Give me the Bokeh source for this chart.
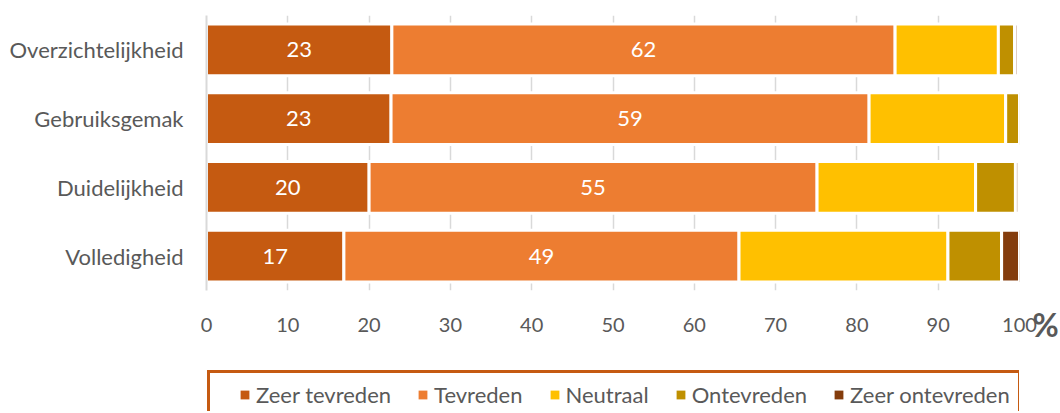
from bokeh.plotting import figure
from bokeh.layouts import column
from bokeh.models import (ColumnDataSource, Range1d, FixedTicker, Legend, LegendItem,
                          LinearAxis)
from bokeh.core.properties import value
from bokeh.embed import file_html
from bokeh.resources import INLINE

# ---- data ----
categories = ["Overzichtelijkheid", "Gebruiksgemak", "Duidelijkheid", "Volledigheid"]
series_names = ["Zeer tevreden", "Tevreden", "Neutraal", "Ontevreden", "Zeer ontevreden"]
zeer_tevreden = [22.8, 22.7, 20.0, 16.9]
tevreden = [61.9, 58.8, 55.1, 48.6]
neutraal = [12.7, 16.8, 19.5, 25.7]
ontevreden = [2.0, 1.7, 4.9, 6.6]
zeer_ontevreden = [0.4, 0.0, 0.4, 2.2]
colors = ["#C55A11", "#ED7D31", "#FFC000", "#BF9000", "#843C0C"]
x_ticks = [0, 10, 20, 30, 40, 50, 60, 70, 80, 90, 100]
unit_label = "%"

FONT = "Lato"
TXT = "#595959"
W = 1060
H1 = 354
H2 = 411 - H1
BL, BR = 206, 41

series = [zeer_tevreden, tevreden, neutraal, ontevreden, zeer_ontevreden]
n = len(categories)
ypos = [n - 1 - i for i in range(n)]  # first category on top

p = figure(width=W, height=H1, output_backend="svg", toolbar_location=None,
           x_range=Range1d(0, 100), y_range=Range1d(-0.5, n - 0.5),
           min_border_left=BL, min_border_right=BR, min_border_top=15,
           min_border_bottom=H1 - 290)
p.outline_line_color = None
p.background_fill_color = "white"
p.border_fill_color = "white"

# stacked bars
sources = []
left = [0.0] * n
for name, vals, col in zip(series_names, series, colors):
    right = [l + v for l, v in zip(left, vals)]
    src = ColumnDataSource(dict(y=ypos, left=left, right=right))
    sources.append(src)
    p.hbar(y="y", left="left", right="right", height=0.755, source=src,
           fill_color=col, line_color="white", line_width=3)
    left = right

# value labels for first two series
lab_x, lab_y, lab_t = [], [], []
base = [0.0] * n
for vals in series[:2]:
    for i in range(n):
        lab_x.append(base[i] + vals[i] / 2)
        lab_y.append(ypos[i])
        lab_t.append(str(int(round(vals[i]))))
    base = [b + v for b, v in zip(base, vals)]
p.text(x=lab_x, y=lab_y, text=lab_t, text_color="white", text_align="center",
       text_baseline="middle", text_font=value(FONT), text_font_size="22px")

# main x axis
xa = p.below[0]
xa.ticker = FixedTicker(ticks=x_ticks)
xa.axis_line_color = None
xa.major_tick_line_color = None
xa.minor_tick_line_color = None
xa.major_tick_out = 0
xa.major_tick_in = 0
xa.major_label_text_font = FONT
xa.major_label_text_font_size = "20px"
xa.major_label_text_color = TXT
xa.major_label_standoff = 27

# unit label "%" next to 100
pa = LinearAxis(ticker=FixedTicker(ticks=[x_ticks[-1]]),
                major_label_overrides={x_ticks[-1]: "\u2003\u2003\u2009" + unit_label},
                axis_line_color=None, major_tick_line_color=None,
                minor_tick_line_color=None, major_tick_out=0, major_tick_in=0,
                major_label_text_font=FONT, major_label_text_font_size="32px",
                major_label_text_font_style="bold", major_label_text_color=TXT,
                major_label_standoff=-30)
p.add_layout(pa, "below")

ya = p.left[0]
ya.ticker = FixedTicker(ticks=ypos)
ya.major_label_overrides = {y: c for y, c in zip(ypos, categories)}
ya.axis_line_color = "#D9D9D9"
ya.axis_line_width = 2
ya.major_tick_line_color = None
ya.minor_tick_line_color = None
ya.major_tick_out = 0
ya.major_tick_in = 0
ya.major_label_text_font = FONT
ya.major_label_text_font_size = "22px"
ya.major_label_text_color = TXT
ya.major_label_standoff = 23

p.xgrid.ticker = FixedTicker(ticks=x_ticks[1:])
p.xgrid.grid_line_color = "#D9D9D9"
p.xgrid.grid_line_width = 1.5
p.ygrid.grid_line_color = None

# ---- legend strip (frame aligned with the chart frame by the column layout) ----
p2 = figure(width=W, height=H2, output_backend="svg", toolbar_location=None,
            x_range=Range1d(0, 100), y_range=Range1d(100, 101),
            x_axis_location=None, y_axis_location=None,
            min_border_left=BL, min_border_right=BR,
            min_border_top=0, min_border_bottom=0)
p2.outline_line_color = None
p2.xgrid.visible = False
p2.ygrid.visible = False
p2.border_fill_color = "white"

swatches = []
for src, col in zip(sources, colors):
    swatches.append(p2.hbar(y="y", left="left", right="right", height=0.755, source=src,
                            fill_color=col, line_color=None))

legend = Legend(items=[LegendItem(label=nm, renderers=[r]) for nm, r in zip(series_names, swatches)],
                orientation="horizontal", location=(1, -8),
                title="\u2003", title_location="left", title_text_font=FONT,
                title_text_font_size="13px", title_standoff=5,
                border_line_color="#C55A11", border_line_width=3, border_line_alpha=1,
                label_text_font=FONT, label_text_font_size="22px", label_text_color=TXT,
                glyph_width=11, glyph_height=11, label_standoff=6, spacing=26,
                padding=8, margin=0, background_fill_alpha=1)
p2.add_layout(legend, "center")

layout = column(p, p2, spacing=0)
open("out.html", "w").write(file_html(layout, INLINE))
